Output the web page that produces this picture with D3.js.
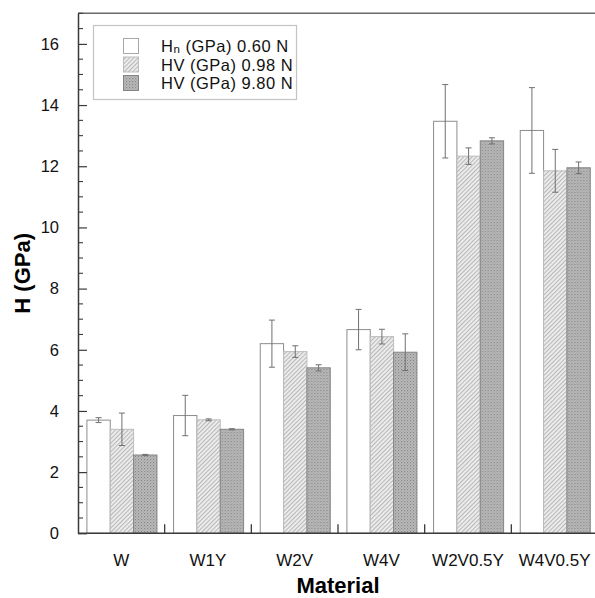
<!DOCTYPE html>
<html>
<head>
<meta charset="utf-8">
<script src="https://cdn.jsdelivr.net/npm/d3@7"></script>
<style>
  html, body { margin: 0; padding: 0; background: #fff; }
  svg { display: block; font-family: "Liberation Sans", Arial, sans-serif; }
</style>
</head>
<body>
<svg id="chart" width="595" height="598"></svg>
<script>
// Hardness per material
const categories = ["W", "W1Y", "W2V", "W4V", "W2V0.5Y", "W4V0.5Y"];
const seriesKeys = ["hn060", "hv098", "hv980"];
const hn060    = [3.70, 3.85, 6.20, 6.66, 13.47, 13.17];
const hn060Err = [0.08, 0.66, 0.77, 0.66, 1.20, 1.40];
const hv098    = [3.40, 3.71, 5.94, 6.43, 12.33, 11.85];
const hv098Err = [0.53, 0.03, 0.19, 0.24, 0.27, 0.70];
const hv980    = [2.56, 3.40, 5.41, 5.92, 12.83, 11.95];
const hv980Err = [0.02, 0.02, 0.10, 0.60, 0.10, 0.19];
const yTicks = [0, 2, 4, 6, 8, 10, 12, 14, 16];

const values = { hn060, hv098, hv980 };
const errors = { hn060: hn060Err, hv098: hv098Err, hv980: hv980Err };

const svg = d3.select("#chart");
const plotLeft = 78, plotRight = 598, plotTop = 13.3, plotBottom = 533.3;

// Fill patterns
const defs = svg.append("defs");
const hatch = defs.append("pattern").attr("id", "hatch")
  .attr("patternUnits", "userSpaceOnUse").attr("width", 3).attr("height", 3)
  .attr("patternTransform", "rotate(45)");
hatch.append("rect").attr("width", 3).attr("height", 3).attr("fill", "#eeeeee");
hatch.append("rect").attr("width", 1.1).attr("height", 3).attr("fill", "#b8b8b8");

const mesh = defs.append("pattern").attr("id", "mesh")
  .attr("patternUnits", "userSpaceOnUse").attr("width", 3).attr("height", 3);
mesh.append("rect").attr("width", 3).attr("height", 3).attr("fill", "#bcbcbc");
mesh.append("rect").attr("x", 0).attr("y", 0).attr("width", 1.2).attr("height", 1.2).attr("fill", "#858585");
mesh.append("rect").attr("x", 1.5).attr("y", 1.5).attr("width", 1.2).attr("height", 1.2).attr("fill", "#9a9a9a");

const styles = {
  hn060: { fill: "#ffffff", stroke: "#8c8c8c" },
  hv098: { fill: "url(#hatch)", stroke: "#bdbdbd" },
  hv980: { fill: "url(#mesh)", stroke: "#858585" }
};

const x0 = d3.scaleBand().domain(categories).range([plotLeft, plotRight]).padding(0);
const bw = x0.bandwidth();
const x1 = d3.scaleBand().domain(seriesKeys).range([bw * 0.097, bw * 0.905]).padding(0);
const y = d3.scaleLinear().domain([0, 17]).range([plotBottom, plotTop]);

// Bars
const groups = svg.append("g").selectAll("g").data(categories).join("g")
  .attr("transform", d => `translate(${x0(d)},0)`);

groups.selectAll("rect.bar")
  .data((c, i) => seriesKeys.map(k => ({ key: k, v: values[k][i], e: errors[k][i] })))
  .join("rect").attr("class", "bar")
  .attr("x", d => x1(d.key) + 0.5)
  .attr("y", d => y(d.v))
  .attr("width", x1.bandwidth())
  .attr("height", d => y(0) - y(d.v))
  .attr("fill", d => styles[d.key].fill)
  .attr("stroke", d => styles[d.key].stroke)
  .attr("stroke-width", 1);

// Error bars
const eb = groups.selectAll("g.err")
  .data((c, i) => seriesKeys.map(k => ({ key: k, v: values[k][i], e: errors[k][i] })))
  .join("g").attr("class", "err")
  .attr("stroke", "#707070").attr("stroke-width", 1);
const cx = d => x1(d.key) + 0.5 + x1.bandwidth() / 2;
eb.append("line").attr("x1", cx).attr("x2", cx)
  .attr("y1", d => y(d.v + d.e)).attr("y2", d => y(d.v - d.e));
eb.append("line").attr("x1", d => cx(d) - 3).attr("x2", d => cx(d) + 3)
  .attr("y1", d => y(d.v + d.e)).attr("y2", d => y(d.v + d.e));
eb.append("line").attr("x1", d => cx(d) - 3).attr("x2", d => cx(d) + 3)
  .attr("y1", d => y(d.v - d.e)).attr("y2", d => y(d.v - d.e));

// Frame
const axisColor = "#3a3a3a";
svg.append("line").attr("x1", plotLeft).attr("x2", plotRight).attr("y1", plotTop).attr("y2", plotTop)
  .attr("stroke", "#6a6a6a").attr("stroke-width", 1.6);

// Y axis with inward ticks
const yAxis = d3.axisLeft(y).tickValues(yTicks).tickSizeInner(-9).tickSizeOuter(0)
  .tickFormat(d3.format("d")).tickPadding(19);
const ya = svg.append("g").attr("transform", `translate(${plotLeft},0)`).call(yAxis);
ya.select(".domain").attr("stroke", axisColor).attr("stroke-width", 1.5);
ya.selectAll(".tick line").attr("stroke", axisColor).attr("stroke-width", 1.2);
ya.selectAll(".tick text").attr("font-size", 16.5).attr("fill", "#111")
  .attr("font-family", "Liberation Sans, Arial, sans-serif");
const minor = d3.range(0, 17.01, 0.5).filter(v => !yTicks.includes(v));
ya.selectAll("line.minor").data(minor).join("line").attr("class", "minor")
  .attr("x1", 0).attr("x2", 5).attr("y1", d => y(d)).attr("y2", d => y(d))
  .attr("stroke", axisColor).attr("stroke-width", 1.1);

// X axis: ticks at category boundaries, labels at centers
const xa = svg.append("g").attr("transform", `translate(0,${plotBottom})`);
xa.append("line").attr("x1", plotLeft).attr("x2", plotRight).attr("stroke", axisColor).attr("stroke-width", 1.5);
xa.selectAll("line.sep").data(categories.slice(1)).join("line").attr("class", "sep")
  .attr("x1", d => x0(d)).attr("x2", d => x0(d)).attr("y1", 0).attr("y2", -9)
  .attr("stroke", axisColor).attr("stroke-width", 1.3);
xa.selectAll("text").data(categories).join("text")
  .attr("x", d => x0(d) + bw / 2).attr("y", 33)
  .attr("text-anchor", "middle").attr("font-size", 17).attr("fill", "#111")
  .text(d => d);

// Axis titles
svg.append("text").attr("x", (plotLeft + plotRight) / 2).attr("y", 593)
  .attr("text-anchor", "middle").attr("font-size", 22).attr("font-weight", "bold")
  .attr("fill", "#000").text("Material");
svg.append("text").attr("transform", `translate(30,${(plotTop + plotBottom) / 2}) rotate(-90)`)
  .attr("text-anchor", "middle").attr("font-size", 22).attr("font-weight", "bold")
  .attr("fill", "#000").text("H (GPa)");

// Legend
const legend = svg.append("g");
legend.append("rect").attr("x", 93.5).attr("y", 25.5).attr("width", 203).attr("height", 74)
  .attr("fill", "#fff").attr("stroke", "#c4c4c4").attr("stroke-width", 1.2);
const legendRows = [
  { key: "hn060", main: "H", sub: "n", rest: " (GPa) 0.60 N" },
  { key: "hv098", main: "HV", sub: "", rest: " (GPa) 0.98 N" },
  { key: "hv980", main: "HV", sub: "", rest: " (GPa) 9.80 N" }
];
const rowY = [46, 64.5, 83];
legendRows.forEach((r, i) => {
  legend.append("rect").attr("x", 123.5).attr("y", rowY[i] - 7.5).attr("width", 15).attr("height", 15)
    .attr("fill", styles[r.key].fill).attr("stroke", r.key === "hn060" ? "#a8a8a8" : styles[r.key].stroke);
  const t = legend.append("text").attr("x", 161).attr("y", rowY[i] + 6)
    .attr("font-size", 16.5).attr("letter-spacing", 0.5).attr("fill", "#111");
  t.append("tspan").text(r.main);
  if (r.sub) t.append("tspan").attr("font-size", 11.5).attr("dy", 1).text(r.sub);
  t.append("tspan").attr("dy", r.sub ? -1 : 0).text(r.rest);
});
</script>
</body>
</html>
